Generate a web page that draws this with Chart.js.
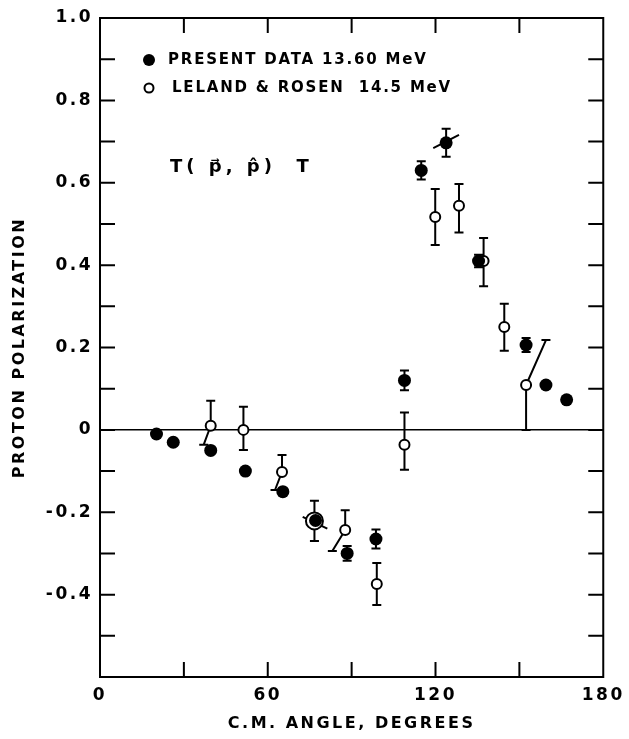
<!DOCTYPE html>
<html>
<head>
<meta charset="utf-8">
<script src="https://cdn.jsdelivr.net/npm/chart.js@4.4.1/dist/chart.umd.min.js"></script>
<style>
  html, body { margin: 0; padding: 0; background: #fff; }
  #wrap { width: 629px; height: 739px; position: relative; }
</style>
</head>
<body>
<div id="wrap"><canvas id="c" width="629" height="739"></canvas></div>
<script>
// ---- data ----
const presentLabel = 'PRESENT DATA 13.60 MeV';
const lelandLabel = 'LELAND & ROSEN  14.5 MeV';
const reactionLabel = 'T( p\u20D7, p\u0302)  T';

const presentX = [20.2, 26.2, 39.6, 52.0, 65.4, 77.1, 88.4, 98.7, 108.9, 114.9, 123.8, 135.4, 152.4, 159.5, 166.9];
const presentY = [-0.01, -0.03, -0.05, -0.10, -0.15, -0.22, -0.30, -0.265, 0.12, 0.63, 0.697, 0.41, 0.206, 0.109, 0.073];
const presentErr = [null, null, null, null, null, null, 0.018, 0.023, 0.024, 0.022, 0.034, 0.015, 0.017, null, null];

const lelandX = [39.6, 51.3, 65.1, 76.7, 87.7, 99.0, 108.9, 119.9, 128.4, 137.2, 144.6, 152.4];
const lelandY = [0.01, 0.0, -0.102, -0.221, -0.243, -0.374, -0.036, 0.517, 0.544, 0.41, 0.25, 0.109];
const lelandErrPlus = [0.061, 0.056, 0.041, 0.049, 0.048, 0.051, 0.078, 0.068, 0.053, 0.056, 0.056, null];
const lelandErrMinus = [null, 0.049, null, 0.049, null, 0.051, 0.061, 0.068, 0.065, 0.061, 0.058, 0.109];

// slanted error bars starting at a point: [x1, y1, x2, y2]
const slantBars = [[39.6, 0.01, 37.1, -0.036], [65.1, -0.102, 62.6, -0.146], [87.7, -0.243, 83.1, -0.294], [152.4, 0.109, 159.5, 0.218]];
// slanted bars crossing a point: [x1, y1, x2, y2]
const crossBars = [[72.5, -0.211, 81.3, -0.240], [119.2, 0.684, 128.4, 0.716]];

const xTicks = [0, 60, 120, 180];
const yTickLabels = [1.0, 0.8, 0.6, 0.4, 0.2, 0, -0.2, -0.4];

const FONT = '"DejaVu Sans", sans-serif';

const errorBarPlugin = {
  id: 'errorBars',
  beforeDatasetsDraw(chart) {
    const ctx = chart.ctx, xs = chart.scales.x, ys = chart.scales.y;
    ctx.save();
    ctx.strokeStyle = '#000';
    ctx.lineWidth = 2;
    const cap = 4.5;
    function vbar(x, y0, y1) {
      const px = xs.getPixelForValue(x), p0 = ys.getPixelForValue(y0), p1 = ys.getPixelForValue(y1);
      ctx.beginPath(); ctx.moveTo(px, p0); ctx.lineTo(px, p1);
      ctx.moveTo(px - cap, p1); ctx.lineTo(px + cap, p1); ctx.stroke();
    }
    presentX.forEach((x, i) => {
      if (presentErr[i] != null) { vbar(x, presentY[i], presentY[i] + presentErr[i]); vbar(x, presentY[i], presentY[i] - presentErr[i]); }
    });
    lelandX.forEach((x, i) => {
      if (lelandErrPlus[i] != null) vbar(x, lelandY[i], lelandY[i] + lelandErrPlus[i]);
      if (lelandErrMinus[i] != null) vbar(x, lelandY[i], lelandY[i] - lelandErrMinus[i]);
    });
    slantBars.forEach(s => {
      const x1 = xs.getPixelForValue(s[0]), y1 = ys.getPixelForValue(s[1]);
      const x2 = xs.getPixelForValue(s[2]), y2 = ys.getPixelForValue(s[3]);
      ctx.beginPath(); ctx.moveTo(x1, y1); ctx.lineTo(x2, y2);
      ctx.moveTo(x2 - cap, y2); ctx.lineTo(x2 + cap, y2); ctx.stroke();
    });
    crossBars.forEach(s => {
      ctx.beginPath();
      ctx.moveTo(xs.getPixelForValue(s[0]), ys.getPixelForValue(s[1]));
      ctx.lineTo(xs.getPixelForValue(s[2]), ys.getPixelForValue(s[3]));
      ctx.stroke();
    });
    ctx.restore();
  }
};

const framePlugin = {
  id: 'frame',
  beforeDraw(chart) {
    chart.ctx.letterSpacing = '2.5px';
  },
  afterDraw(chart) {
    const ctx = chart.ctx, a = chart.chartArea, xs = chart.scales.x, ys = chart.scales.y;
    ctx.save();
    ctx.strokeStyle = '#000';
    ctx.lineWidth = 2;
    ctx.strokeRect(a.left, a.top, a.right - a.left, a.bottom - a.top);
    const tl = 15;
    ctx.beginPath();
    ys.ticks.forEach(t => {
      const py = ys.getPixelForValue(t.value);
      if (py <= a.top + 1 || py >= a.bottom - 1) return;
      ctx.moveTo(a.left, py); ctx.lineTo(a.left + tl, py);
      ctx.moveTo(a.right, py); ctx.lineTo(a.right - tl, py);
    });
    xs.ticks.forEach(t => {
      const px = xs.getPixelForValue(t.value);
      if (px <= a.left + 1 || px >= a.right - 1) return;
      ctx.moveTo(px, a.bottom); ctx.lineTo(px, a.bottom - tl);
      ctx.moveTo(px, a.top); ctx.lineTo(px, a.top + tl);
    });
    ctx.stroke();
    // legend
    ctx.fillStyle = '#000';
    ctx.letterSpacing = '1.8px';
    ctx.font = 'bold 15px ' + FONT;
    ctx.textBaseline = 'middle';
    ctx.textAlign = 'left';
    ctx.beginPath(); ctx.arc(149, 60, 6, 0, Math.PI * 2); ctx.fill();
    ctx.fillText(presentLabel, 168, 60);
    ctx.beginPath(); ctx.lineWidth = 2; ctx.arc(149, 88, 4.5, 0, Math.PI * 2); ctx.stroke();
    ctx.fillText(lelandLabel, 172, 88);
    ctx.font = 'bold 18px ' + FONT;
    ctx.letterSpacing = '4px';
    ctx.fillText(reactionLabel, 170, 167);
    ctx.restore();
  }
};

const ctx = document.getElementById('c').getContext('2d');
new Chart(ctx, {
  type: 'scatter',
  data: {
    datasets: [
      {
        label: presentLabel,
        data: presentX.map((x, i) => ({ x: x, y: presentY[i] })),
        pointStyle: 'circle',
        pointRadius: 6.5,
        pointBackgroundColor: '#000',
        pointBorderColor: '#000',
        pointBorderWidth: 0,
        showLine: false
      },
      {
        label: lelandLabel,
        data: lelandX.map((x, i) => ({ x: x, y: lelandY[i] })),
        pointStyle: 'circle',
        pointRadius: (c) => (c.dataIndex === 3 ? 8.5 : 5),
        pointBackgroundColor: '#fff',
        pointBorderColor: '#000',
        pointBorderWidth: 2,
        showLine: false
      }
    ]
  },
  plugins: [errorBarPlugin, framePlugin],
  options: {
    responsive: false,
    animation: false,
    events: [],
    layout: { padding: { top: 18, right: 20, left: 0, bottom: 0 } },
    plugins: { legend: { display: false }, tooltip: { enabled: false } },
    scales: {
      x: {
        type: 'linear',
        min: 0, max: 180,
        afterFit(s) { s.height = 62; },
        ticks: {
          stepSize: 30,
          autoSkip: false,
          maxRotation: 0,
          color: '#000',
          padding: 8,
          font: { family: FONT, weight: 'bold', size: 17 },
          callback: (v) => (xTicks.includes(v) ? String(v) : '')
        },
        grid: { display: false, drawTicks: false },
        border: { display: false },
        title: {
          display: true,
          text: 'C.M. ANGLE, DEGREES',
          color: '#000',
          font: { family: FONT, weight: 'bold', size: 16 },
          padding: { top: 0, bottom: 6 }
        }
      },
      y: {
        type: 'linear',
        min: -0.6, max: 1.0,
        afterFit(s) { s.width = 100; },
        ticks: {
          stepSize: 0.1,
          autoSkip: false,
          color: '#000',
          padding: 7,
          font: { family: FONT, weight: 'bold', size: 17 },
          callback: (v) => {
            const r = Math.round(v * 10) / 10;
            const hit = yTickLabels.find(t => Math.abs(t - r) < 1e-9);
            if (hit === undefined) return '';
            return hit === 0 ? '0' : hit.toFixed(1);
          }
        },
        grid: {
          drawTicks: false,
          color: (c) => (c.tick && Math.abs(c.tick.value) < 1e-9 ? '#000' : 'rgba(0,0,0,0)'),
          lineWidth: 1.5
        },
        border: { display: false },
        title: {
          display: true,
          text: 'PROTON POLARIZATION',
          color: '#000',
          font: { family: FONT, weight: 'bold', size: 16 },
          padding: { top: 10, bottom: 0 }
        }
      }
    }
  }
});
</script>
</body>
</html>
